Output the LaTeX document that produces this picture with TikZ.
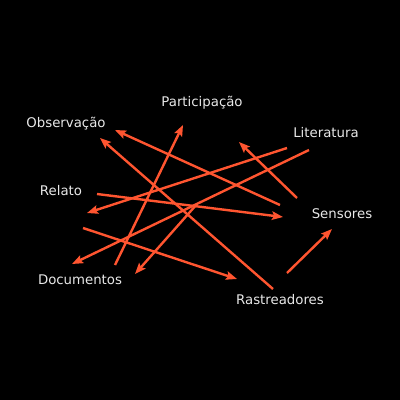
\documentclass[tikz,border=0pt]{standalone}
\usepackage{fontspec}
\setmainfont{DejaVu Sans}
\usepackage{xcolor,tikz}
\usetikzlibrary{arrows.meta}
\definecolor{mapBack}{HTML}{000000}
\definecolor{mapText}{HTML}{E8E8E8}
\definecolor{mapLink}{HTML}{FF5530}

\begin{document}
\begin{tikzpicture}[x=1pt, y=-1pt,
  lbl/.style={text=mapText, font=\fontsize{13.3}{15}\selectfont, inner sep=0pt},
  link/.style={mapLink, line width=2.4pt,
    -{Stealth[length=11pt, width=8.5pt, inset=2pt]}}]

% --- CANVAS ---
\fill[mapBack] (0,0) rectangle (400,400);

% --- LABELS ---
\node[lbl] (part) at (202,103) {Participação};
\node[lbl] (obs)  at (66,124)  {Observação};
\node[lbl] (lit)  at (326,133) {Literatura};
\node[lbl] (rel)  at (61,191)  {Relato};
\node[lbl] (sens) at (342,214) {Sensores};
\node[lbl] (doc)  at (80,280)  {Documentos};
\node[lbl] (rast) at (280,300) {Rastreadores};

% --- LINKS (start x/y, tip x/y) ---
\def\linkdata{1/280/205/115/130, 2/273/289/100/138, 3/115/265/183/125,
  4/97/194/283/217, 5/287/148/87/213, 6/83/228/237/279,
  7/297/198/239/142, 8/309/150/72/264, 9/197/204/135/274,
  10/287/273/332/229}

\foreach \n/\sx/\sy/\ex/\ey in \linkdata {
  \coordinate (s\n) at (\sx,\sy);
  \coordinate (e\n) at (\ex,\ey);
  \draw[link] (s\n) -- (e\n);
}

\end{tikzpicture}
\end{document}
